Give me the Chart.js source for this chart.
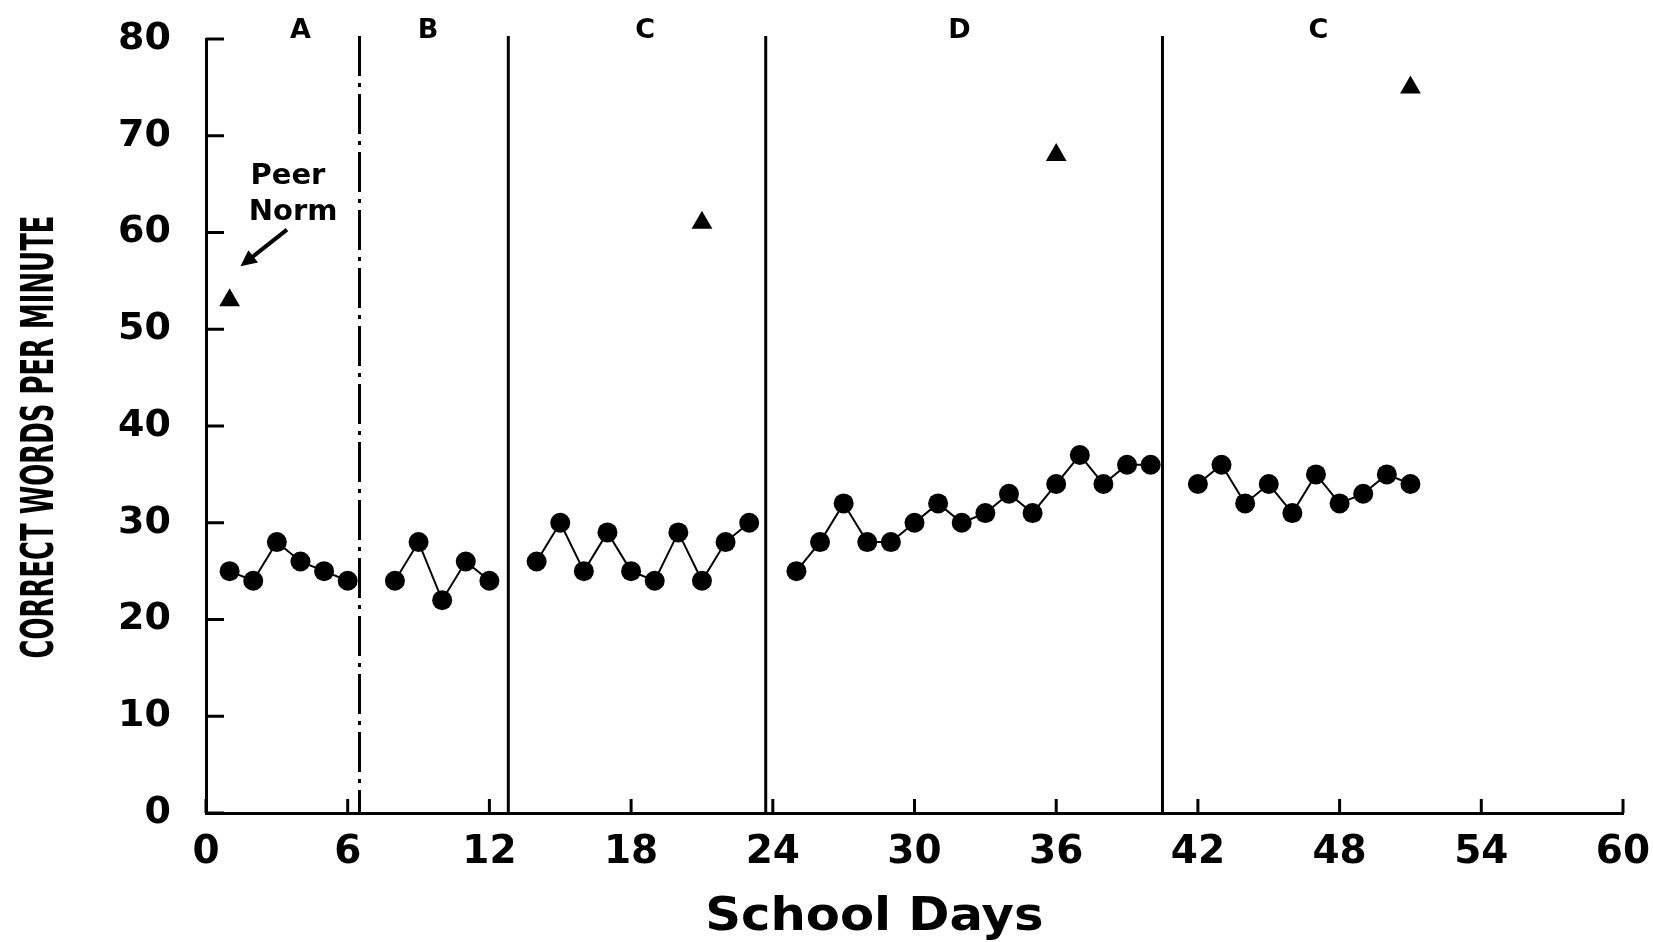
<!DOCTYPE html>
<html>
<head>
<meta charset="utf-8">
<script src="https://cdn.jsdelivr.net/npm/chart.js@4.4.0/dist/chart.umd.min.js"></script>
<style>
  html, body { margin: 0; padding: 0; background: #fff; }
  #wrap { width: 1653px; height: 942px; position: relative; }
</style>
</head>
<body>
<div id="wrap"><canvas id="fluency-chart"></canvas></div>
<script>
// school day / correct words per minute, one pair per phase
const phaseADays = [1, 2, 3, 4, 5, 6];
const phaseAWords = [25, 24, 28, 26, 25, 24];
const phaseBDays = [8, 9, 10, 11, 12];
const phaseBWords = [24, 28, 22, 26, 24];
const phaseCDays = [14, 15, 16, 17, 18, 19, 20, 21, 22, 23];
const phaseCWords = [26, 30, 25, 29, 25, 24, 29, 24, 28, 30];
const phaseDDays = [25, 26, 27, 28, 29, 30, 31, 32, 33, 34, 35, 36, 37, 38, 39, 40];
const phaseDWords = [25, 28, 32, 28, 28, 30, 32, 30, 31, 33, 31, 34, 37, 34, 36, 36];
const phaseC2Days = [42, 43, 44, 45, 46, 47, 48, 49, 50, 51];
const phaseC2Words = [34, 36, 32, 34, 31, 35, 32, 33, 35, 34];

// peer norm triangles
const peerNormDays = [1, 21, 36, 51];
const peerNormWords = [53, 61, 68, 75];

// phases
const phaseLabels = ['A', 'B', 'C', 'D', 'C'];
const phaseLabelDays = [4, 9.4, 18.6, 31.9, 47.1];
const phaseChangeDays = [6.5, 12.8, 23.7, 40.5];

const xTickStep = 6;
const yTickStep = 10;
const xTitle = 'School Days';
const yTitle = 'CORRECT WORDS PER MINUTE';

const ink = '#000';
const fam = "'DejaVu Sans', sans-serif";

function toPoints(days, words) {
    return days.map((d, i) => ({ x: d, y: words[i] }));
}

function phaseSet(days, words) {
    return {
        data: toPoints(days, words),
        showLine: true,
        borderColor: ink,
        borderWidth: 2,
        backgroundColor: ink,
        pointStyle: 'circle',
        pointRadius: 10,
        pointBorderWidth: 0,
        pointBackgroundColor: ink
    };
}

// phase lines, inward ticks, phase letters, axis titles and the peer norm note
const phasePlugin = {
    id: 'phases',
    beforeDatasetsDraw(chart) {
        const { ctx, chartArea, scales: { x, y } } = chart;
        ctx.save();
        ctx.strokeStyle = ink;

        // ticks point into the plot
        ctx.lineWidth = 3;
        y.ticks.forEach(t => {
            const py = y.getPixelForValue(t.value);
            ctx.beginPath();
            ctx.moveTo(chartArea.left, py);
            ctx.lineTo(chartArea.left + 18, py);
            ctx.stroke();
        });
        x.ticks.forEach(t => {
            const px = x.getPixelForValue(t.value);
            ctx.beginPath();
            ctx.moveTo(px, chartArea.bottom);
            ctx.lineTo(px, chartArea.bottom - 14);
            ctx.stroke();
        });

        // phase change lines, the first one dash-dot
        phaseChangeDays.forEach((d, i) => {
            const px = x.getPixelForValue(d);
            ctx.setLineDash(i === 0 ? [40, 7, 4, 7] : []);
            ctx.beginPath();
            ctx.moveTo(px, chartArea.top - 3);
            ctx.lineTo(px, chartArea.bottom);
            ctx.stroke();
        });
        ctx.setLineDash([]);
        ctx.restore();
    },
    afterDatasetsDraw(chart) {
        const { ctx, chartArea, scales: { x, y } } = chart;
        ctx.save();
        ctx.fillStyle = ink;
        ctx.strokeStyle = ink;
        ctx.textAlign = 'center';
        ctx.textBaseline = 'middle';

        ctx.font = 'bold 27px ' + fam;
        phaseLabels.forEach((lab, i) => {
            ctx.fillText(lab, x.getPixelForValue(phaseLabelDays[i]), chartArea.top - 8);
        });

        ctx.font = 'bold 29px ' + fam;
        ctx.fillText('Peer', x.getPixelForValue(3.47), y.getPixelForValue(65.8));
        ctx.fillText('Norm', x.getPixelForValue(3.69), y.getPixelForValue(62.1));

        // arrow pointing at the first peer norm
        const ax0 = x.getPixelForValue(3.43), ay0 = y.getPixelForValue(60.3);
        const ax1 = x.getPixelForValue(1.46), ay1 = y.getPixelForValue(56.5);
        const ang = Math.atan2(ay1 - ay0, ax1 - ax0);
        ctx.lineWidth = 4;
        ctx.beginPath();
        ctx.moveTo(ax0, ay0);
        ctx.lineTo(ax1 - 10 * Math.cos(ang), ay1 - 10 * Math.sin(ang));
        ctx.stroke();
        ctx.beginPath();
        ctx.moveTo(ax1, ay1);
        ctx.lineTo(ax1 - 18 * Math.cos(ang - 0.45), ay1 - 18 * Math.sin(ang - 0.45));
        ctx.lineTo(ax1 - 18 * Math.cos(ang + 0.45), ay1 - 18 * Math.sin(ang + 0.45));
        ctx.closePath();
        ctx.fill();

        // x title sits a little left of the axis centre, in a wide face
        ctx.save();
        ctx.font = 'bold 46px ' + fam;
        ctx.textBaseline = 'alphabetic';
        ctx.translate(x.getPixelForValue(28.3), chartArea.bottom + 117);
        ctx.scale(1.08, 1);
        ctx.fillText(xTitle, 0, 0);
        ctx.restore();

        // y title: a condensed face, squeezed to the original length
        ctx.font = 'bold 45px ' + fam;
        const w = ctx.measureText(yTitle).width;
        ctx.translate(41, (chartArea.top + chartArea.bottom) / 2 + 11);
        ctx.rotate(-Math.PI / 2);
        ctx.scale(443 / w, 1);
        ctx.fillText(yTitle, 0, 0);
        ctx.restore();
    }
};

new Chart(document.getElementById('fluency-chart').getContext('2d'), {
    type: 'scatter',
    data: {
        datasets: [
            phaseSet(phaseADays, phaseAWords),
            phaseSet(phaseBDays, phaseBWords),
            phaseSet(phaseCDays, phaseCWords),
            phaseSet(phaseDDays, phaseDWords),
            phaseSet(phaseC2Days, phaseC2Words),
            {
                data: toPoints(peerNormDays, peerNormWords),
                showLine: false,
                pointStyle: 'triangle',
                pointRadius: 12,
                pointBorderWidth: 0,
                pointBackgroundColor: ink
            }
        ]
    },
    options: {
        responsive: true,
        maintainAspectRatio: false,
        animation: false,
        layout: { padding: { top: 39, right: 30, left: 0, bottom: 0 } },
        plugins: {
            legend: { display: false },
            tooltip: { enabled: false }
        },
        scales: {
            x: {
                type: 'linear',
                min: 0,
                max: 60,
                ticks: {
                    stepSize: xTickStep,
                    color: ink,
                    padding: 0,
                    font: { family: fam, size: 39, weight: 'bold' }
                },
                // invisible tick marks only set the gap to the labels
                grid: { display: true, drawOnChartArea: false, drawTicks: true, tickLength: 16, tickColor: 'rgba(0,0,0,0)' },
                border: { display: true, color: ink, width: 3 },
                afterFit(scale) { scale.height = 129; }
            },
            y: {
                min: 0,
                max: 80,
                ticks: {
                    stepSize: yTickStep,
                    color: ink,
                    padding: 0,
                    font: { family: fam, size: 38, weight: 'bold' }
                },
                grid: { display: true, drawOnChartArea: false, drawTicks: true, tickLength: 35, tickColor: 'rgba(0,0,0,0)' },
                border: { display: true, color: ink, width: 3 },
                afterFit(scale) { scale.width = 206; }
            }
        }
    },
    plugins: [phasePlugin]
});
</script>
</body>
</html>
